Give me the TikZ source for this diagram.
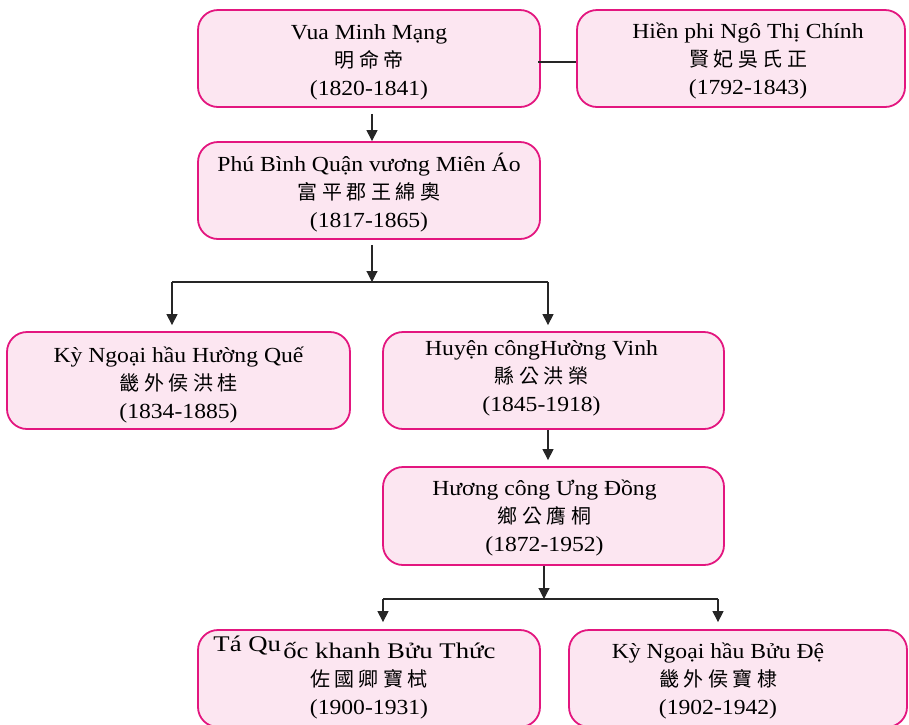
\documentclass[tikz,border=0pt]{standalone}
\usepackage{fontspec}
\setmainfont{Liberation Serif}[FakeStretch=1.1]
\newfontfamily\cjk{Noto Sans CJK TC}
\usetikzlibrary{arrows.meta}
\definecolor{boxfill}{HTML}{FCE6F1}
\definecolor{boxline}{HTML}{E3167F}
\newcommand\cjsp{\hspace{4.5pt}}
\newcommand\cjline[1]{{\cjk\fontsize{20}{28}\selectfont #1}}
\begin{document}
\begin{tikzpicture}[x=1pt,y=-1pt,
  person/.style={draw=boxline, line width=1.8pt, fill=boxfill, rounded corners=20pt, inner sep=0pt, minimum height=97pt},
  txt/.style={align=center, font=\fontsize{21.5}{28}\selectfont, inner sep=0pt},
  link/.style={line width=1.1pt, draw=black!85},
  arr/.style={link, -{Triangle[length=11pt,width=11pt]}}]
\useasboundingbox (0,0) rectangle (909,724);

% boxes
\node[person, minimum width=342pt] (b1) at (369,58.5) {};
\node[person, minimum width=328pt] (b2) at (741,58.5) {};
\node[person, minimum width=342pt] (b3) at (369,190.5) {};
\node[person, minimum width=343pt] (b4) at (178.5,380.5) {};
\node[person, minimum width=341pt] (b5) at (553.5,380.5) {};
\node[person, minimum width=341pt, minimum height=98pt] (b6) at (553.5,516) {};
\node[person, minimum width=342pt] (b7) at (369,678.5) {};
\node[person, minimum width=338pt] (b8) at (738,678.5) {};

% texts
\node[txt] (t1) at ([shift={(0,2.9)}]b1.center) {\strut Vua Minh Mạng\\ \cjline{明\cjsp 命\cjsp 帝}\\ (1820-1841)\strut};
\node[txt] (t2) at ([shift={(7,2)}]b2.center) {\strut Hiền phi Ngô Thị Chính\\ \cjline{賢\cjsp 妃\cjsp 吳\cjsp 氏\cjsp 正}\\ (1792-1843)\strut};
\node[txt] (t3) at ([shift={(0,3.6)}]b3.center) {\strut Phú Bình Quận vương Miên Áo\\ \cjline{富\cjsp 平\cjsp 郡\cjsp 王\cjsp 綿\cjsp 奧}\\ (1817-1865)\strut};
\node[txt] (t4) at ([shift={(0,3.9)}]b4.center) {\strut Kỳ Ngoại hầu Hường Quế\\ \cjline{畿\cjsp 外\cjsp 侯\cjsp 洪\cjsp 桂}\\ (1834-1885)\strut};
\node[txt] (t5) at ([shift={(-12,-3.1)}]b5.center) {\strut Huyện côngHường Vinh\\ \cjline{縣\cjsp 公\cjsp 洪\cjsp 榮}\\ (1845-1918)\strut};
\node[txt] (t6) at ([shift={(-9,1.4)}]b6.center) {\strut Hương công Ưng Đồng\\ \cjline{鄉\cjsp 公\cjsp 膺\cjsp 桐}\\ (1872-1952)\strut};
\node[txt] (t7) at ([shift={(0,2.5)}]b7.center) {\strut \scalebox{1.13}[1.04]{\raisebox{7pt}[0pt][0pt]{Tá Qu}\hspace{2pt}ốc khanh Bửu Thức}\hspace*{29pt}\\ \cjline{佐\cjsp 國\cjsp 卿\cjsp 寶\cjsp 栻}\\ (1900-1931)\strut};
\node[txt] (t8) at ([shift={(-20,2.5)}]b8.center) {\strut Kỳ Ngoại hầu Bửu Đệ\\ \cjline{畿\cjsp 外\cjsp 侯\cjsp 寶\cjsp 棣}\\ (1902-1942)\strut};

% connectors
\draw[link] ([shift={(0,3.5)}]b2.west) -- ([shift={(-3,3.5)}]b1.east);
\draw[arr] ([shift={(3,6)}]b1.south) -- ([shift={(3,0)}]b3.north);

\coordinate (j1) at (372,282);
\coordinate (h1l) at (172,282);
\coordinate (h1r) at (548,282);
\draw[arr] ([shift={(3,5)}]b3.south) -- (j1);
\draw[link] (h1l) -- (h1r);
\draw[arr] (h1l) -- ([yshift=6pt]h1l |- b4.north);
\draw[arr] (h1r) -- ([yshift=6pt]h1r |- b5.north);

\draw[arr] ([xshift=-5.5pt]b5.south) -- ([xshift=-5.5pt,yshift=6pt]b6.north);

\coordinate (j2) at (544,599);
\coordinate (h2l) at (383,599);
\coordinate (h2r) at (718,599);
\draw[arr] ([xshift=-9.5pt]b6.south) -- (j2);
\draw[link] (h2l) -- (h2r);
\draw[arr] (h2l) -- ([yshift=7pt]h2l |- b7.north);
\draw[arr] (h2r) -- ([yshift=7pt]h2r |- b8.north);
\end{tikzpicture}
\end{document}
